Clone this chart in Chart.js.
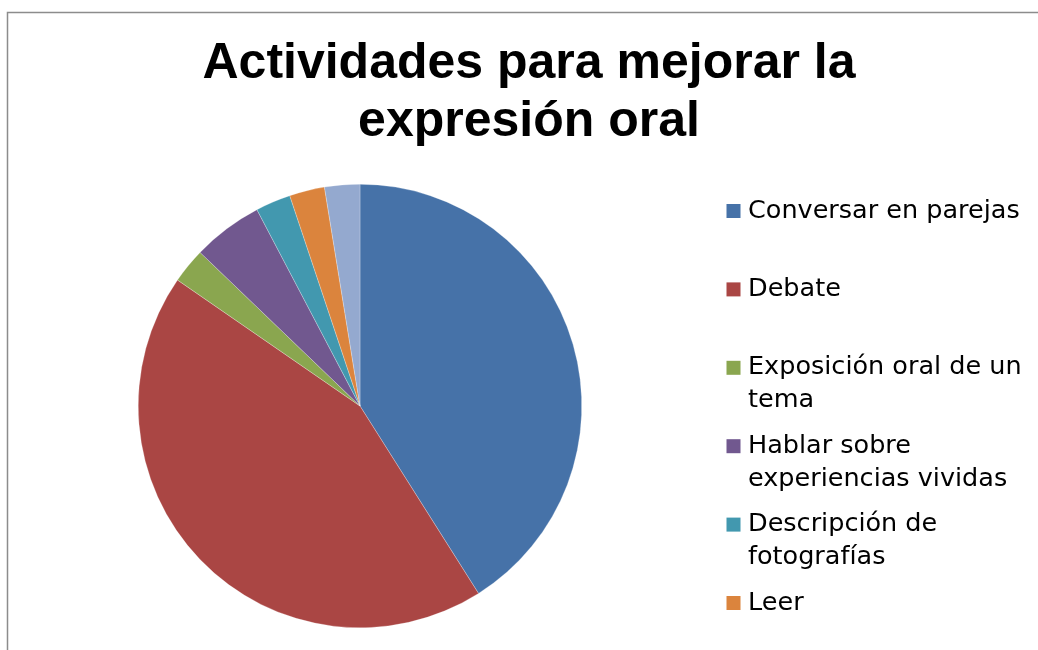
<!DOCTYPE html>
<html>

<head>
  <meta charset="utf-8">
  <title>Actividades para mejorar la expresión oral</title>
  <style>
    body { margin: 0; background: #fff; }
    canvas { display: block; }
  </style>
</head>

<body>
  <canvas id="grafico" width="1038" height="650"></canvas>

  <script src="https://cdn.jsdelivr.net/npm/chart.js"></script>
  <script>
    // datos
    const titulo = ['Actividades para mejorar la', 'expresión oral'];
    const actividades = [
      'Conversar en parejas',
      'Debate',
      'Exposición oral de un tema',
      'Hablar sobre experiencias vividas',
      'Descripción de fotografías',
      'Leer',
      'Otros'
    ];
    const respuestas = [16, 17, 1, 2, 1, 1, 1];
    const colores = ['#4672a8', '#aa4644', '#8aa64f', '#71588f', '#4298af', '#db843d', '#94a9cf'];

    //marco gris del grafico (solo se ven el borde izquierdo y el de arriba)
    const marco = {
      id: 'marco',
      beforeDraw(chart) {
        const ctx = chart.ctx;
        ctx.save();
        ctx.strokeStyle = '#8c8c8c';
        ctx.lineWidth = 1.5;
        ctx.beginPath();
        ctx.moveTo(7.5, chart.height);
        ctx.lineTo(7.5, 12.5);
        ctx.lineTo(chart.width, 12.5);
        ctx.stroke();
        ctx.restore();
      }
    };

    //leyenda a la derecha con textos en varias lineas
    function partirTexto(ctx, texto, ancho) {
      let lineas = [];
      let actual = '';
      texto.split(' ').forEach((palabra) => {
        let prueba = actual ? actual + ' ' + palabra : palabra;
        if (actual && ctx.measureText(prueba).width > ancho) {
          lineas.push(actual);
          actual = palabra;
        } else {
          actual = prueba;
        }
      });
      if (actual) lineas.push(actual);
      return lineas;
    }

    const leyenda = {
      id: 'leyendaDerecha',
      start(chart) {
        const caja = {
          position: 'right',
          weight: 10,
          fullSize: false,
          options: { stackWeight: 1 },
          isHorizontal() { return false; },
          update(maxWidth, maxHeight) {
            this.width = 338;
            this.height = maxHeight;
          },
          draw() {
            const ctx = chart.ctx;
            const etiquetas = chart.data.labels;
            const fondo = chart.data.datasets[0].backgroundColor;
            ctx.save();
            ctx.font = '25.5px "DejaVu Sans"';
            ctx.textBaseline = 'middle';
            ctx.fillStyle = '#000';
            etiquetas.forEach((etiqueta, i) => {
              let y = this.top + 27 + i * 78.4;
              ctx.fillStyle = fondo[i];
              ctx.fillRect(this.left + 26.5, y - 7, 14, 14);
              ctx.fillStyle = '#000';
              partirTexto(ctx, etiqueta, 290).forEach((linea, j) => {
                ctx.fillText(linea, this.left + 48, y + j * 33);
              });
            });
            ctx.restore();
          }
        };
        Chart.layouts.addBox(chart, caja);
      }
    };

    new Chart(document.getElementById('grafico'), {
      type: 'pie',
      data: {
        labels: actividades,
        datasets: [{
          data: respuestas,
          backgroundColor: colores,
          borderColor: 'rgba(255,255,255,0.5)',
          borderWidth: 0.5
        }]
      },
      options: {
        responsive: false,
        animation: false,
        layout: { padding: { left: 20, right: 0, top: 0, bottom: 22 } },
        plugins: {
          legend: { display: false },
          tooltip: { enabled: false },
          title: {
            display: true,
            text: titulo,
            color: '#000',
            font: { family: '"Liberation Sans", Arial', size: 50, weight: 'bold', lineHeight: 1.16 },
            padding: { top: 35, bottom: 33 }
          }
        }
      },
      plugins: [marco, leyenda]
    });
  </script>
</body>
</html>
